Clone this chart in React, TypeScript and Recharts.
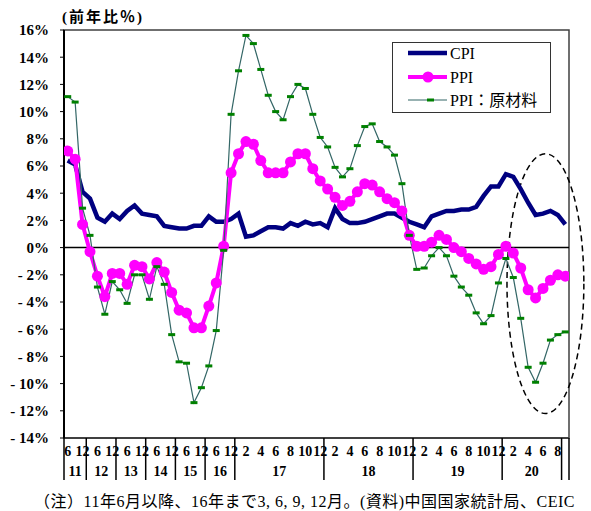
import React from 'react';
import { ComposedChart, Line, XAxis, YAxis, ReferenceLine, ReferenceArea } from 'recharts';

// ---- data ----
const monthLabels = [
  '6', '', '12',
  '', '6', '', '12',
  '', '6', '', '12',
  '', '6', '', '12',
  '', '6', '', '12',
  '', '6', '', '12',
  '', '2', '', '4', '', '6', '', '8', '', '10', '', '12',
  '', '2', '', '4', '', '6', '', '8', '', '10', '', '12',
  '', '2', '', '4', '', '6', '', '8', '', '10', '', '12',
  '', '2', '', '4', '', '6', '', '8', '',
];

const yearGroups: [string, number][] = [
  ['11', 3], ['12', 4], ['13', 4], ['14', 4], ['15', 4], ['16', 4],
  ['17', 12], ['18', 12], ['19', 12], ['20', 8], ['', 1],
];

const cpi = [
  6.4, 6.1, 4.1, 3.6, 2.2, 1.9, 2.5, 2.1, 2.7, 3.1, 2.5, 2.4, 2.3, 1.6, 1.5, 1.4, 1.4, 1.6, 1.6, 2.3, 1.9, 1.9, 2.1,
  2.5, 0.8, 0.9, 1.2, 1.5, 1.5, 1.4, 1.8, 1.6, 1.9, 1.7, 1.8,
  1.5, 2.9, 2.1, 1.8, 1.8, 1.9, 2.1, 2.3, 2.5, 2.5, 2.2, 1.9,
  1.7, 1.5, 2.3, 2.5, 2.7, 2.7, 2.8, 2.8, 3.0, 3.8, 4.5, 4.5,
  5.4, 5.2, 4.3, 3.3, 2.4, 2.5, 2.7, 2.4, 1.7,
];

const ppi = [
  7.1, 6.5, 1.7, -0.3, -2.1, -3.6, -1.9, -1.9, -2.7, -1.3, -1.4, -2.3, -1.1, -1.8, -3.3, -4.6, -4.8, -5.9, -5.9, -4.3, -2.6, 0.1, 5.5,
  6.9, 7.8, 7.6, 6.4, 5.5, 5.5, 5.5, 6.3, 6.9, 6.9, 5.8, 4.9,
  4.3, 3.7, 3.1, 3.4, 4.1, 4.7, 4.6, 4.1, 3.6, 3.3, 2.7, 0.9,
  0.1, 0.1, 0.4, 0.9, 0.6, 0.0, -0.3, -0.8, -1.2, -1.6, -1.4, -0.5,
  0.1, -0.4, -1.5, -3.1, -3.7, -3.0, -2.4, -2.0, -2.1,
];

const ppiRaw = [
  11.1, 10.7, 2.9, 0.9, -2.9, -4.9, -2.5, -3.1, -4.1, -2.0, -2.0, -3.8, -1.4, -2.7, -6.4, -8.4, -8.5, -11.4, -10.3, -8.7, -6.1, -0.2, 9.8,
  13.0, 15.6, 15.0, 13.1, 11.2, 10.0, 9.4, 11.1, 12.0, 11.7, 9.8, 8.1,
  7.4, 5.9, 5.2, 5.8, 7.5, 8.9, 9.1, 7.8, 7.4, 6.8, 4.7, 0.9,
  -1.6, -1.5, -0.6, 0.0, -0.6, -2.1, -2.9, -3.5, -4.8, -5.6, -5.0, -2.6,
  -0.8, -2.2, -5.2, -8.8, -9.9, -8.5, -6.8, -6.4, -6.2,
];

const yTicks = [-14, -12, -10, -8, -6, -4, -2, 0, 2, 4, 6, 8, 10, 12, 14, 16];

// ellipse annotation (data coords: category index / percent)
const ellipseX = [59.15, 69.5];
const ellipseY = [-12.2, 6.9];

// ---- derived ----
const yearLabels: string[] = [];
yearGroups.forEach(([y, n]) => { for (let k = 0; k < n; k++) yearLabels.push(y); });

const N = cpi.length;
const data = cpi.map((v, i) => ({ i, cpi: v, ppi: ppi[i], raw: ppiRaw[i] }));
const xTicks = data.map((d) => d.i);

const W = 591;
const H = 511;
const Y_AXIS_W = 64;
const MARGIN = { top: 30, right: 22, bottom: 0, left: 0 };
const X_AXIS_H = 73;
const PLOT_W = W - Y_AXIS_W - MARGIN.right;
const BW = PLOT_W / N;

const SERIF = "'Liberation Serif', 'DejaVu Serif', 'Noto Sans CJK JP', serif";
const JP = "'Liberation Serif', 'Noto Sans CJK JP', serif";

function XTick(props: any) {
  const { x, y, payload } = props;
  const i = payload.value as number;
  const yr = yearLabels[i];
  const isStart = i === 0 || yearLabels[i - 1] !== yr;
  const out: React.ReactNode[] = [];
  if (monthLabels[i]) {
    out.push(
      <text key="m" x={x} y={y + 18} textAnchor="middle" fontFamily={SERIF} fontWeight="bold" fontSize={14} fill="#000">
        {monthLabels[i]}
      </text>
    );
  }
  if (isStart) {
    out.push(<line key="d" x1={x - BW / 2} x2={x - BW / 2} y1={y} y2={y + 42} stroke="#000" strokeWidth={1.5} />);
    if (yr) {
      const n = yearGroups.find((g) => g[0] === yr)![1];
      out.push(
        <text key="y" x={x - BW / 2 + (n * BW) / 2} y={y + 38} textAnchor="middle" fontFamily={SERIF} fontWeight="bold" fontSize={14} fill="#000">
          {yr}
        </text>
      );
    }
  }
  if (i === N - 1) {
    out.push(<line key="e" x1={x + BW / 2} x2={x + BW / 2} y1={y} y2={y + 42} stroke="#000" strokeWidth={1.5} />);
  }
  return <g>{out}</g>;
}

const RawDot = (p: any) => {
  if (p.cx == null || p.cy == null) return <g key={p.index} />;
  return <rect key={p.index} x={p.cx - 3.5} y={p.cy - 1.5} width={7} height={3} fill="#008000" />;
};

const EllipseShape = (p: any) => (
  <ellipse
    cx={p.x + p.width / 2}
    cy={p.y + p.height / 2}
    rx={Math.abs(p.width) / 2}
    ry={Math.abs(p.height) / 2}
    fill="none"
    stroke="#000"
    strokeWidth={1.5}
    strokeDasharray="6 4"
  />
);

const fmtY = (v: number) => (v < 0 ? `- ${-v}%` : `${v}%`);

function LegendBox() {
  return (
    <div
      style={{
        position: 'absolute', left: 392, top: 42, width: 159, height: 71,
        border: '1.5px solid #333', boxSizing: 'border-box', background: '#fff',
      }}
    >
      <svg width={156} height={68} style={{ position: 'absolute', left: 0, top: 0 }}>
        <line x1={15} x2={54} y1={10} y2={10} stroke="#000080" strokeWidth={4.5} />
        <text x={57} y={16} fontFamily={JP} fontSize={16} fill="#000">CPI</text>
        <line x1={15} x2={54} y1={34} y2={34} stroke="#FF00FF" strokeWidth={4} />
        <circle cx={35} cy={34} r={5.5} fill="#FF00FF" />
        <text x={57} y={40} fontFamily={JP} fontSize={16} fill="#000">PPI</text>
        <line x1={15} x2={54} y1={57} y2={57} stroke="#336666" strokeWidth={1.2} />
        <rect x={34} y={55.5} width={7} height={3} fill="#008000" />
        <text x={57} y={63} fontFamily={JP} fontSize={16} fill="#000">PPI：原材料</text>
      </svg>
    </div>
  );
}

export default function App() {
  return (
    <div style={{ position: 'absolute', left: 0, top: 0, width: W, height: H, background: '#fff' }}>
      <div
        style={{
          position: 'absolute', left: 62, top: 7, fontFamily: JP, fontSize: 15,
          fontWeight: 'bold', color: '#000', whiteSpace: 'nowrap', lineHeight: '20px',
          letterSpacing: '2px',
        }}
      >
        (前年比％)
      </div>
      <ComposedChart width={W} height={H} data={data} margin={MARGIN}>
        <ReferenceArea x1={-0.5} x2={N - 0.5} y1={-14} y2={16} fill="none" stroke="#404040" strokeWidth={1.5} ifOverflow="visible" />
        <XAxis
          dataKey="i"
          type="number"
          domain={[-0.5, N - 0.5]}
          ticks={xTicks}
          interval={0}
          height={X_AXIS_H}
          tickSize={0}
          tickMargin={0}
          tickLine={false}
          axisLine={{ stroke: '#404040', strokeWidth: 2 }}
          tick={<XTick />}
          allowDataOverflow
        />
        <YAxis
          type="number"
          domain={[-14, 16]}
          ticks={yTicks}
          interval={0}
          width={Y_AXIS_W}
          tickSize={4}
          tickMargin={11}
          tickFormatter={fmtY}
          axisLine={{ stroke: '#000', strokeWidth: 2 }}
          tickLine={{ stroke: '#000', strokeWidth: 1 }}
          tick={{ fontFamily: SERIF, fontWeight: 'bold', fontSize: 15, fill: '#000' }}
          allowDataOverflow
        />
        <ReferenceLine y={0} stroke="#000" strokeWidth={1.5} />
        <Line
          dataKey="cpi"
          type="linear"
          stroke="#000080"
          strokeWidth={4.5}
          dot={false}
          activeDot={false}
          isAnimationActive={false}
        />
        <Line
          dataKey="ppi"
          type="linear"
          stroke="#FF00FF"
          strokeWidth={4}
          dot={{ r: 5.5, fill: '#FF00FF', stroke: '#FF00FF', strokeWidth: 0 }}
          activeDot={false}
          isAnimationActive={false}
        />
        <Line
          dataKey="raw"
          type="linear"
          stroke="#336666"
          strokeWidth={1.2}
          dot={RawDot}
          activeDot={false}
          isAnimationActive={false}
        />
        <ReferenceArea
          x1={ellipseX[0]}
          x2={ellipseX[1]}
          y1={ellipseY[0]}
          y2={ellipseY[1]}
          ifOverflow="visible"
          shape={EllipseShape}
        />
      </ComposedChart>
      <LegendBox />
      <div
        style={{
          position: 'absolute', left: 34, top: 492, fontFamily: JP, fontSize: 16,
          color: '#000', whiteSpace: 'nowrap', lineHeight: '20px', letterSpacing: '0.5px',
        }}
      >
        （注）11年6月以降、16年まで3, 6, 9, 12月。(資料)中国国家統計局、CEIC
      </div>
    </div>
  );
}
